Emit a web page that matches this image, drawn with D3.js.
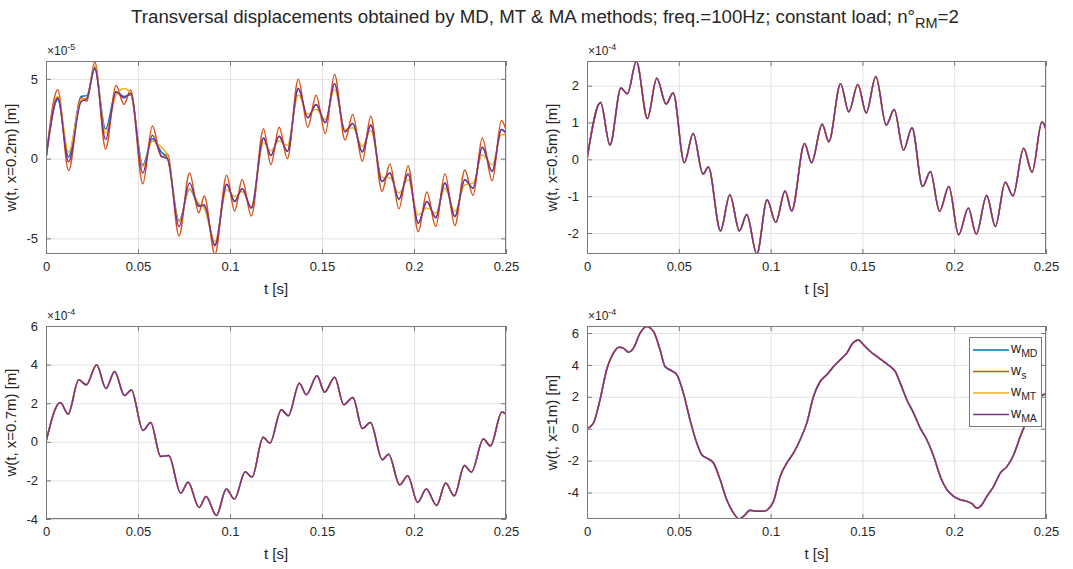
<!DOCTYPE html>
<html>
<head>
<meta charset="utf-8">
<script src="https://cdn.jsdelivr.net/npm/d3@7"></script>
<style>
  html, body { margin: 0; padding: 0; background: #fff; }
  svg { display: block; font-family: "Liberation Sans", Arial, Helvetica, sans-serif; }
</style>
</head>
<body>
<svg id="fig" width="1073" height="569"></svg>
<script>
// ---------------- data ----------------
// Time axis shared by every subplot (s)
const xTicks = [0, 0.05, 0.1, 0.15, 0.2, 0.25];

// Station x = 0.2 m  (values in units of 1e-5 m)
const t02 = [0, 0.0064, 0.0123, 0.019, 0.0222, 0.0265, 0.0324, 0.0381, 0.0424, 0.046,
  0.0526, 0.0578, 0.0628, 0.066, 0.0723, 0.078, 0.083, 0.086, 0.0918, 0.0982,
  0.1025, 0.1066, 0.1116, 0.1182, 0.1222, 0.1267, 0.1312, 0.1371, 0.1423, 0.1468,
  0.1518, 0.1568, 0.1625, 0.1667, 0.1719, 0.1765, 0.1826, 0.1869, 0.1918, 0.1968,
  0.2023, 0.207, 0.2118, 0.2168, 0.2222, 0.2276, 0.2321, 0.2371, 0.2425, 0.2475, 0.25];
const wMD02 = [0, 3.7, 0.1, 3.9, 3.95, 5.6, 1.85, 4.2, 3.9, 4.0,
  -0.4, 1.25, 0.4, 0.05, -3.9, -1.9, -2.9, -3.0, -5.4, -1.6,
  -2.69, -1.89, -3.1, 1.3, 0.2, 1.4, 0.46, 4.4, 2.56, 3.4,
  2.25, 4.7, 1.68, 2.2, 0.42, 2.1, -1.43, -0.9, -2.54, -0.97,
  -4.05, -2.69, -3.7, -1.53, -3.63, -1.32, -1.85, 0.71, -0.8, 1.83, 1.6];
const wS02 = [0, 4.31, -0.75, 3.83, 3.6, 6.08, 0.6, 4.58, 3.4, 4.3,
  -1.58, 2.04, 0.1, 0.29, -4.85, -0.9, -3.4, -2.35, -6.0, -1.04,
  -3.29, -1.31, -3.6, 1.88, -0.38, 1.97, 0.0, 4.98, 1.97, 3.97,
  1.58, 5.29, 1.16, 2.77, -0.17, 2.65, -2.06, -0.34, -3.15, -0.44,
  -4.58, -2.1, -4.26, -0.95, -4.2, -0.71, -2.31, 1.3, -1.39, 2.39, 1.8];
const wMT02 = [0, 3.9, 0.4, 3.65, 3.8, 5.8, 1.6, 4.0, 4.4, 4.1,
  -0.5, 1.1, 0.7, 0.2, -3.95, -1.9, -2.8, -3.1, -5.2, -1.95,
  -2.37, -2.06, -3.0, 1.0, 0.5, 1.1, 0.84, 4.0, 2.77, 3.1,
  2.46, 4.35, 1.83, 1.93, 0.78, 1.76, -1.18, -1.2, -2.16, -1.32,
  -3.53, -3.1, -3.42, -1.85, -3.32, -1.64, -1.53, 0.25, -0.38, 1.5, 1.5];
const wMA02 = [0, 3.82, -0.2, 3.55, 3.75, 5.7, 1.2, 4.2, 3.8, 4.1,
  -0.9, 1.47, 0.15, 0.0, -4.26, -1.53, -3.0, -2.9, -5.46, -1.6,
  -2.69, -1.89, -3.1, 1.3, 0.2, 1.4, 0.46, 4.4, 2.56, 3.4,
  2.25, 4.7, 1.68, 2.2, 0.42, 2.1, -1.43, -0.9, -2.54, -0.97,
  -4.05, -2.69, -3.7, -1.53, -3.63, -1.32, -1.85, 0.71, -0.8, 1.83, 1.6];
const yDom02 = [-5.98, 6.12];
const yTicks02 = [-5, 0, 5];

// Station x = 0.5 m  (values in units of 1e-4 m); the four methods coincide
const t05 = [0, 0.0074, 0.0125, 0.0185, 0.022, 0.0269, 0.0329, 0.038, 0.0431, 0.0469,
  0.053, 0.0578, 0.0632, 0.0661, 0.0727, 0.0778, 0.083, 0.087, 0.0925, 0.0981,
  0.1028, 0.1079, 0.1115, 0.1185, 0.1223, 0.1281, 0.1317, 0.1381, 0.1426, 0.1475,
  0.1521, 0.1573, 0.163, 0.1673, 0.1724, 0.177, 0.1828, 0.187, 0.192, 0.1971,
  0.2024, 0.2077, 0.212, 0.2177, 0.2224, 0.2278, 0.232, 0.2378, 0.2424, 0.2478, 0.25];
const w05 = [0, 1.54, 0.39, 1.94, 1.78, 2.66, 1.11, 2.2, 1.5, 1.81,
  -0.09, 0.7, -0.4, -0.21, -1.94, -0.96, -1.94, -1.5, -2.57, -1.1,
  -1.71, -0.86, -1.4, 0.43, -0.09, 0.95, 0.48, 2.05, 1.29, 2.03,
  1.26, 2.25, 0.93, 1.35, 0.25, 0.86, -0.74, -0.33, -1.41, -0.74,
  -2.05, -1.32, -2.03, -0.98, -1.82, -0.62, -0.99, 0.3, -0.35, 1.02, 0.81];
const yDom05 = [-2.57, 2.67];
const yTicks05 = [-2, -1, 0, 1, 2];

// Station x = 0.7 m  (values in units of 1e-4 m)
const t07 = [0, 0.0078, 0.012, 0.0178, 0.0219, 0.0275, 0.0326, 0.0373, 0.0426, 0.0464,
  0.0527, 0.0569, 0.0623, 0.0667, 0.0732, 0.0772, 0.0832, 0.087, 0.0926, 0.098,
  0.1024, 0.1083, 0.112, 0.118, 0.1217, 0.1279, 0.1317, 0.1377, 0.1415, 0.1473,
  0.1514, 0.1569, 0.1618, 0.1668, 0.1719, 0.1763, 0.1828, 0.1862, 0.1922, 0.1966,
  0.202, 0.2067, 0.2123, 0.2172, 0.2219, 0.2274, 0.2312, 0.2377, 0.2415, 0.2478, 0.25];
const w07 = [0, 2.04, 1.43, 3.21, 2.95, 3.99, 2.76, 3.64, 2.4, 2.69,
  0.59, 1.0, -0.76, -0.71, -2.66, -2.1, -3.4, -2.83, -3.82, -2.44,
  -2.97, -1.55, -1.83, 0.24, -0.07, 1.66, 1.35, 3.04, 2.44, 3.42,
  2.57, 3.35, 1.92, 2.3, 0.69, 1.0, -0.93, -0.64, -2.23, -1.76,
  -3.14, -2.45, -3.3, -2.14, -2.8, -1.23, -1.57, 0.14, -0.21, 1.54, 1.43];
const yDom07 = [-4, 6];
const yTicks07 = [-4, -2, 0, 2, 4, 6];

// Station x = 1 m  (values in units of 1e-4 m)
const t10 = [0, 0.0035, 0.0071, 0.0107, 0.0144, 0.0174, 0.0198, 0.0225, 0.0253, 0.0289,
  0.0325, 0.0362, 0.0398, 0.0425, 0.0462, 0.049, 0.0525, 0.0561, 0.0598, 0.0625,
  0.0652, 0.0689, 0.0725, 0.0761, 0.0798, 0.0829, 0.0856, 0.0888, 0.0925, 0.0958,
  0.0988, 0.1016, 0.1052, 0.1088, 0.1125, 0.1161, 0.1197, 0.1234, 0.127, 0.1306,
  0.1343, 0.1379, 0.1415, 0.1448, 0.1479, 0.1506, 0.1543, 0.1579, 0.1615, 0.1652,
  0.1679, 0.1706, 0.1742, 0.1779, 0.1815, 0.1851, 0.1888, 0.1924, 0.196, 0.1997,
  0.2033, 0.2069, 0.2097, 0.2124, 0.2151, 0.2178, 0.2215, 0.2251, 0.2288, 0.2324,
  0.236, 0.2397, 0.2433, 0.2469, 0.25];
const w10 = [0, 0.35, 1.82, 3.7, 4.74, 5.11, 5.05, 4.8, 5.05, 5.99,
  6.41, 6.1, 4.95, 3.9, 3.63, 3.38, 2.23, 0.56, -0.9, -1.63,
  -1.84, -2.15, -3.19, -4.45, -5.28, -5.66, -5.45, -5.11, -5.18, -5.18,
  -5.03, -4.55, -2.99, -2.15, -1.52, -0.69, 0.35, 2.03, 2.96, 3.38,
  3.9, 4.32, 4.74, 5.37, 5.57, 5.26, 4.84, 4.53, 4.22, 3.9,
  3.59, 2.86, 1.82, 0.98, 0.04, -0.69, -1.73, -2.99, -3.82, -4.24,
  -4.45, -4.55, -4.7, -4.97, -4.76, -4.24, -3.61, -2.78, -2.36, -1.63,
  -0.48, 0.56, 1.61, 2.03, 2.19];
const yDom10 = [-5.66, 6.44];
const yTicks10 = [-4, -2, 0, 2, 4, 6];

// Methods: names (subscripts) and line colours
const methods = ["MD", "s", "MT", "MA"];
const methodColors = ["#0072BD", "#D95319", "#EDB120", "#7E2F8E"];

// ---------------- layout ----------------
const svg = d3.select("#fig");
const textColor = "#262626";
const axisColor = "#7a7a7a";
const gridColor = "#e3e3e3";

const panels = [
  { left: 46, right: 506, top: 61, bottom: 254, yDomain: yDom02, yTicks: yTicks02, exp: "-5",
    ylabel: "w(t, x=0.2m) [m]", t: t02, values: [wMD02, wS02, wMT02, wMA02] },
  { left: 587, right: 1046, top: 61, bottom: 254, yDomain: yDom05, yTicks: yTicks05, exp: "-4",
    ylabel: "w(t, x=0.5m) [m]", t: t05, values: [w05, w05, w05, w05] },
  { left: 46, right: 506, top: 326, bottom: 519, yDomain: yDom07, yTicks: yTicks07, exp: "-4",
    ylabel: "w(t, x=0.7m) [m]", t: t07, values: [w07, w07, w07, w07] },
  { left: 587, right: 1046, top: 326, bottom: 519, yDomain: yDom10, yTicks: yTicks10, exp: "-4",
    ylabel: "w(t, x=1m) [m]", t: t10, values: [w10, w10, w10, w10], legend: true }
];

// ---------------- title ----------------
const title = svg.append("text")
  .attr("x", 545).attr("y", 23)
  .attr("text-anchor", "middle")
  .attr("font-size", 18.7)
  .attr("fill", textColor);
title.append("tspan").text("Transversal displacements obtained by MD, MT & MA methods; freq.=100Hz; constant load; n°");
title.append("tspan").attr("font-size", 14.5).attr("dy", 5).text("RM");
title.append("tspan").attr("dy", -5).text("=2");

// ---------------- subplots ----------------
panels.forEach((p, i) => {
  const x = d3.scaleLinear().domain([0, 0.25]).range([p.left, p.right]);
  const y = d3.scaleLinear().domain(p.yDomain).range([p.bottom, p.top]);
  const w = p.right - p.left, h = p.bottom - p.top;
  const g = svg.append("g");

  // grid
  g.append("g")
    .attr("transform", `translate(0,${p.bottom})`)
    .call(d3.axisBottom(x).tickValues(xTicks).tickSize(-h).tickFormat(""))
    .call(s => s.select(".domain").remove())
    .call(s => s.selectAll("line").attr("stroke", gridColor));
  g.append("g")
    .attr("transform", `translate(${p.left},0)`)
    .call(d3.axisLeft(y).tickValues(p.yTicks).tickSize(-w).tickFormat(""))
    .call(s => s.select(".domain").remove())
    .call(s => s.selectAll("line").attr("stroke", gridColor));

  // curves
  const clipId = "clip" + i;
  svg.append("clipPath").attr("id", clipId)
    .append("rect").attr("x", p.left).attr("y", p.top).attr("width", w).attr("height", h);
  const line = d3.line()
    .x(d => x(d[0]))
    .y(d => y(d[1]))
    .curve(d3.curveMonotoneX);
  const series = p.values.map((v, k) => ({ color: methodColors[k], pts: d3.zip(p.t, v) }));
  g.append("g").attr("clip-path", `url(#${clipId})`)
    .selectAll("path").data(series).join("path")
    .attr("d", s => line(s.pts))
    .attr("fill", "none")
    .attr("stroke", s => s.color)
    .attr("stroke-width", 1.5)
    .attr("stroke-linejoin", "round");

  // axes with inward ticks on all four sides
  const styleAxis = s => {
    s.select(".domain").remove();
    s.selectAll(".tick line").attr("stroke", axisColor);
    s.selectAll(".tick text").attr("fill", textColor).attr("font-size", 13)
      .attr("font-family", "Liberation Sans, Arial, sans-serif");
  };
  g.append("g").attr("transform", `translate(0,${p.bottom})`)
    .call(d3.axisBottom(x).tickValues(xTicks).tickSizeInner(-5).tickSizeOuter(0).tickPadding(8)
      .tickFormat(d => String(d)))
    .call(styleAxis);
  g.append("g").attr("transform", `translate(0,${p.top})`)
    .call(d3.axisTop(x).tickValues(xTicks).tickSizeInner(-5).tickSizeOuter(0).tickFormat(""))
    .call(styleAxis);
  g.append("g").attr("transform", `translate(${p.left},0)`)
    .call(d3.axisLeft(y).tickValues(p.yTicks).tickSizeInner(-5).tickSizeOuter(0).tickPadding(8)
      .tickFormat(d => String(d)))
    .call(styleAxis);
  g.append("g").attr("transform", `translate(${p.right},0)`)
    .call(d3.axisRight(y).tickValues(p.yTicks).tickSizeInner(-5).tickSizeOuter(0).tickFormat(""))
    .call(styleAxis);

  // axes box
  g.append("rect")
    .attr("x", p.left + 0.5).attr("y", p.top + 0.5)
    .attr("width", w - 1).attr("height", h - 1)
    .attr("fill", "none").attr("stroke", axisColor).attr("stroke-width", 1);

  // exponent multiplier
  const ex = g.append("text")
    .attr("x", p.left + 1).attr("y", p.top - 6)
    .attr("font-size", 12).attr("fill", textColor);
  ex.append("tspan").text("×10");
  ex.append("tspan").attr("font-size", 9).attr("dy", -5).text(p.exp);

  // axis labels
  g.append("text")
    .attr("x", (p.left + p.right) / 2).attr("y", p.bottom + 40)
    .attr("text-anchor", "middle").attr("font-size", 15).attr("fill", textColor)
    .text("t [s]");
  g.append("text")
    .attr("transform", `translate(${p.left - 30},${(p.top + p.bottom) / 2}) rotate(-90)`)
    .attr("text-anchor", "middle").attr("font-size", 15).attr("fill", textColor)
    .text(p.ylabel);

  // legend
  if (p.legend) {
    const lx = 969, ly = 337, lw = 72, lh = 89;
    const lg = g.append("g");
    lg.append("rect").attr("x", lx + 0.5).attr("y", ly + 0.5).attr("width", lw).attr("height", lh)
      .attr("fill", "#fff").attr("stroke", axisColor);
    methods.forEach((m, k) => {
      const ry = ly + 13 + k * 21.5;
      lg.append("line").attr("x1", lx + 4).attr("x2", lx + 40).attr("y1", ry).attr("y2", ry)
        .attr("stroke", methodColors[k]).attr("stroke-width", 1.5);
      const tx = lg.append("text").attr("x", lx + 42).attr("y", ry + 3)
        .attr("font-size", 14).attr("fill", textColor);
      tx.append("tspan").text("w");
      tx.append("tspan").attr("font-size", 10.5).attr("dy", 4).text(m);
    });
  }
});
</script>
</body>
</html>
